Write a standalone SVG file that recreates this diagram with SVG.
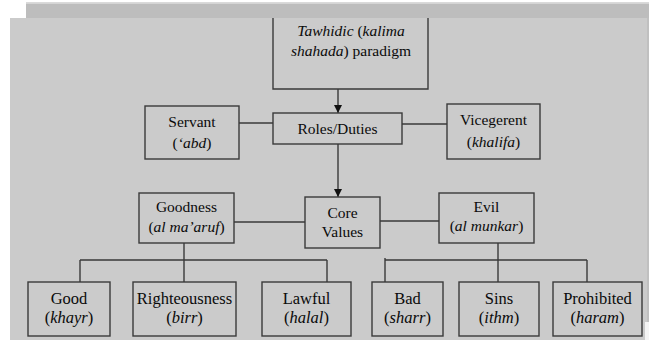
<svg xmlns="http://www.w3.org/2000/svg" width="649" height="340" viewBox="0 0 649 340">
<style>
.box{fill:#cbcbcb;stroke:#3a3a3a;stroke-width:1.4}
.ln{stroke:#3a3a3a;stroke-width:1.4;fill:none}
.t{font-family:'Liberation Serif','Times New Roman',serif;font-size:15.5px;fill:#0a0a0a;text-anchor:middle}
.b{font-size:16.5px}
.i{font-style:italic}
</style>
<defs>
<marker id="ah" viewBox="0 0 10 10" refX="10" refY="5" markerWidth="8" markerHeight="8" markerUnits="userSpaceOnUse" orient="auto">
<path d="M0,0 L10,5 L0,10 Z" fill="#111"/>
</marker>
</defs>
<rect width="649" height="340" fill="#ffffff"/>
<rect x="26" y="2" width="623" height="1.5" fill="#dadada"/>
<rect x="26" y="3.5" width="623" height="14.5" fill="#bdbdbd"/>
<rect x="10" y="18" width="637" height="322" fill="#cbcbcb"/>
<rect x="647" y="18" width="2" height="304" fill="#c0c0c0"/>
<rect x="645" y="322" width="4" height="18" fill="#f4f4f4"/>

<g id="connectors">
<line class="ln" x1="338" y1="89" x2="338" y2="113" marker-end="url(#ah)"/>
<line class="ln" x1="338" y1="144" x2="338" y2="197" marker-end="url(#ah)"/>
<line class="ln" x1="239" y1="123" x2="273" y2="123"/>
<line class="ln" x1="402" y1="124" x2="447" y2="124"/>
<line class="ln" x1="234" y1="222" x2="305" y2="222"/>
<line class="ln" x1="380" y1="221" x2="439" y2="221"/>
<path class="ln" d="M184,243 V260 M80,260 H327 M80,260 V282 M184,260 V282 M327,260 V282"/>
<path class="ln" d="M498,243 V260 M385,260 H587 M385,258 V282 M498,260 V282 M587,260 V282"/>
</g>

<g id="tawhidic">
<path class="box" d="M273,18 V89 H428 V18"/>
<text class="t" x="351" y="36"><tspan class="i">Tawhidic</tspan> (<tspan class="i">kalima</tspan></text>
<text class="t" x="351" y="56"><tspan class="i">shahada</tspan>) paradigm</text>
</g>
<g id="roles">
<rect class="box" x="273" y="113" width="129" height="31"/>
<text class="t" x="337.5" y="134">Roles/Duties</text>
</g>
<g id="servant">
<rect class="box" x="145" y="106" width="94" height="53"/>
<text class="t" x="192" y="127">Servant</text>
<text class="t" x="192" y="148">(<tspan class="i">‘abd</tspan>)</text>
</g>
<g id="vicegerent">
<rect class="box" x="447" y="104" width="93" height="55"/>
<text class="t" x="493.5" y="125">Vicegerent</text>
<text class="t" x="493.5" y="147">(<tspan class="i">khalifa</tspan>)</text>
</g>
<g id="goodness">
<rect class="box" x="139" y="193" width="95" height="50"/>
<text class="t" x="186.5" y="212">Goodness</text>
<text class="t" x="186.5" y="232">(<tspan class="i">al ma’aruf</tspan>)</text>
</g>
<g id="core">
<rect class="box" x="305" y="197" width="75" height="51"/>
<text class="t" x="342.5" y="218">Core</text>
<text class="t" x="342.5" y="237">Values</text>
</g>
<g id="evil">
<rect class="box" x="439" y="193" width="95" height="50"/>
<text class="t" x="486.5" y="212">Evil</text>
<text class="t" x="486.5" y="231">(<tspan class="i">al munkar</tspan>)</text>
</g>
<g id="good">
<rect class="box" x="28" y="282" width="82" height="54"/>
<text class="t b" x="69" y="304">Good</text>
<text class="t b" x="69" y="323">(<tspan class="i">khayr</tspan>)</text>
</g>
<g id="righteousness">
<rect class="box" x="133" y="282" width="103" height="54"/>
<text class="t b" x="184.5" y="304">Righteousness</text>
<text class="t b" x="184.5" y="323">(<tspan class="i">birr</tspan>)</text>
</g>
<g id="lawful">
<rect class="box" x="262" y="282" width="89" height="54"/>
<text class="t b" x="306.5" y="304">Lawful</text>
<text class="t b" x="306.5" y="323">(<tspan class="i">halal</tspan>)</text>
</g>
<g id="bad">
<rect class="box" x="372" y="282" width="71" height="54"/>
<text class="t b" x="407.5" y="304">Bad</text>
<text class="t b" x="407.5" y="323">(<tspan class="i">sharr</tspan>)</text>
</g>
<g id="sins">
<rect class="box" x="459" y="282" width="80" height="54"/>
<text class="t b" x="499" y="304">Sins</text>
<text class="t b" x="499" y="323">(<tspan class="i">ithm</tspan>)</text>
</g>
<g id="prohibited">
<rect class="box" x="553" y="282" width="89" height="54"/>
<text class="t b" x="597.5" y="304">Prohibited</text>
<text class="t b" x="597.5" y="323">(<tspan class="i">haram</tspan>)</text>
</g>
</svg>
